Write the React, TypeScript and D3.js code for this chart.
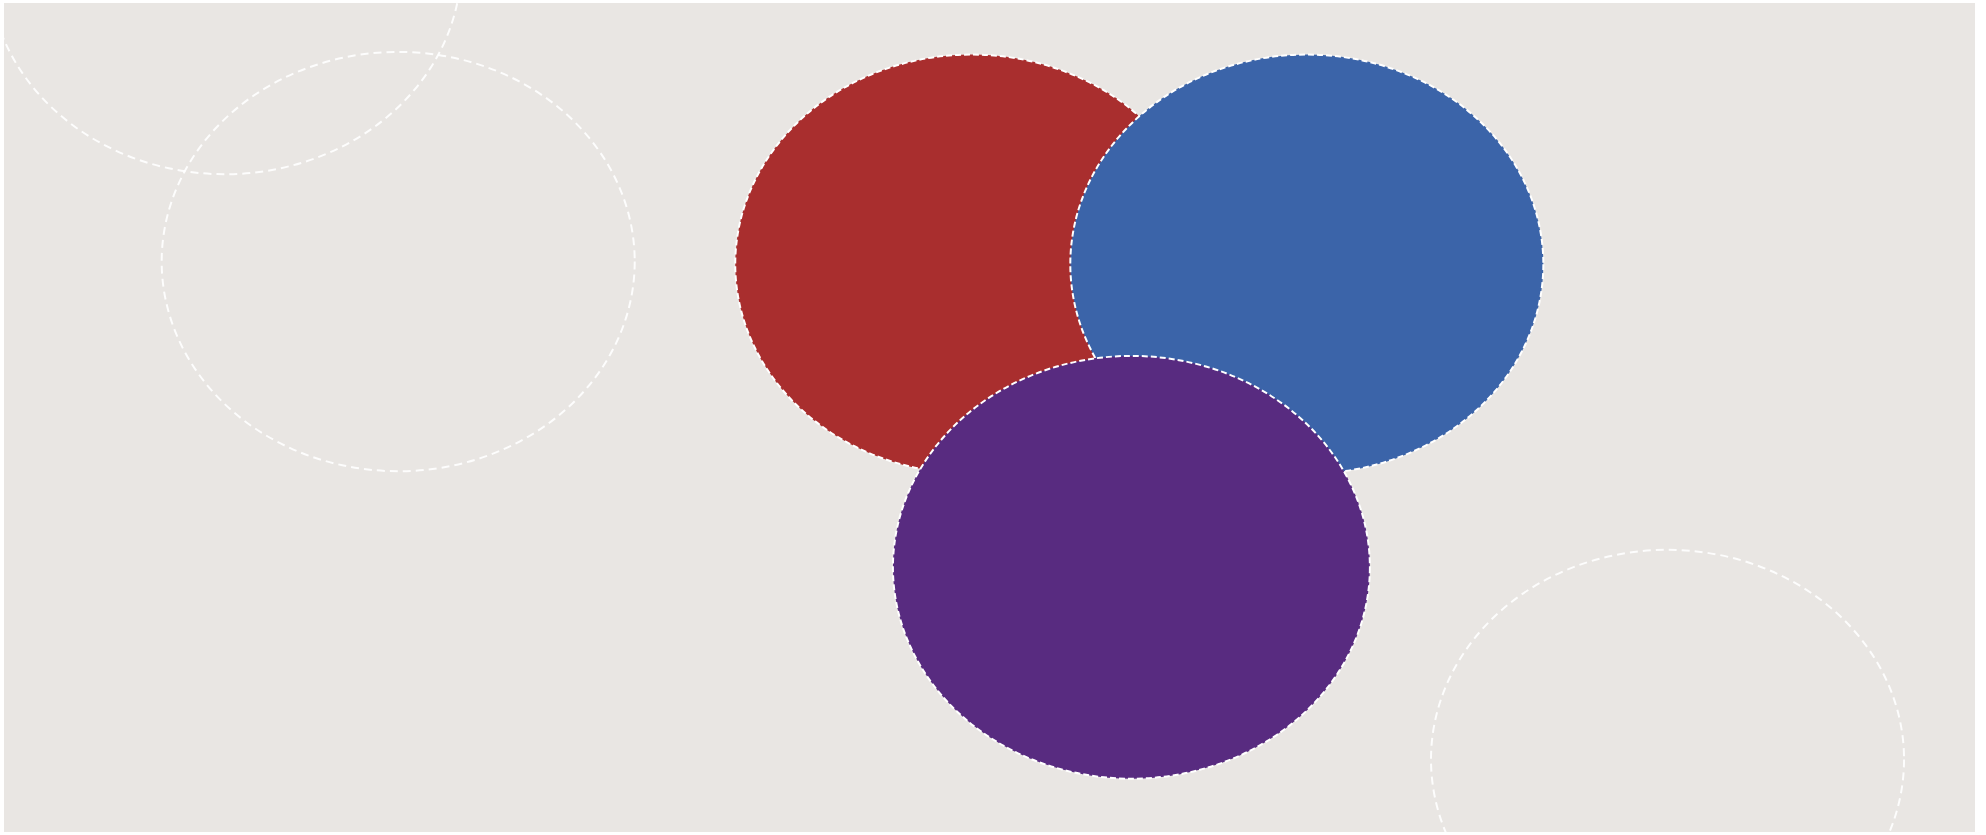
import React from "react";
import * as d3 from "d3";

// Data (in chart units)
const setNames = ["Red", "Blue", "Purple"];
const setX = [49.1, 66.1, 57.2];
const setY = [14.95, 14.95, 32.3];
const setR = [12, 12, 12.1];
const setColors = ["#A92E2E", "#3B64A9", "#582B80"];

const ghostX = [11.2, 20.0, 84.4];
const ghostY = [-2.2, 14.8, 43.3];
const ghostR = [12, 12, 12];

const W = 1986;
const H = 835;
const left = 4, top = 3, right = 1975, bottom = 832;

export default function App() {
  const x = d3.scaleLinear().domain([0, 100]).range([left, right]);
  const y = d3.scaleLinear().domain([0, 47.45]).range([top, bottom]);
  const rxOf = (r: number) => x(r) - x(0);
  const ryOf = (r: number) => y(r) - y(0);

  return (
    <svg
      width={W}
      height={H}
      style={{ position: "absolute", left: 0, top: 0, display: "block" }}
    >
      <defs>
        <clipPath id="plotClip">
          <rect x={left} y={top} width={right - left} height={bottom - top} />
        </clipPath>
      </defs>
      <rect x={0} y={0} width={W} height={H} fill="#ffffff" />
      <rect x={left} y={top} width={right - left} height={bottom - top} fill="#E9E6E3" />
      <g clipPath="url(#plotClip)">
        {ghostX.map((gx, i) => (
          <ellipse
            key={"g" + i}
            cx={x(gx)}
            cy={y(ghostY[i])}
            rx={rxOf(ghostR[i])}
            ry={ryOf(ghostR[i])}
            fill="none"
            stroke="#ffffff"
            strokeOpacity={0.9}
            strokeWidth={2}
            strokeDasharray="8 5"
          />
        ))}
        {setNames.map((name, i) => (
          <ellipse
            key={name}
            cx={x(setX[i])}
            cy={y(setY[i])}
            rx={rxOf(setR[i])}
            ry={ryOf(setR[i])}
            fill={setColors[i]}
            stroke="#ffffff"
            strokeWidth={2}
            strokeDasharray="6 3"
          />
        ))}
      </g>
    </svg>
  );
}
